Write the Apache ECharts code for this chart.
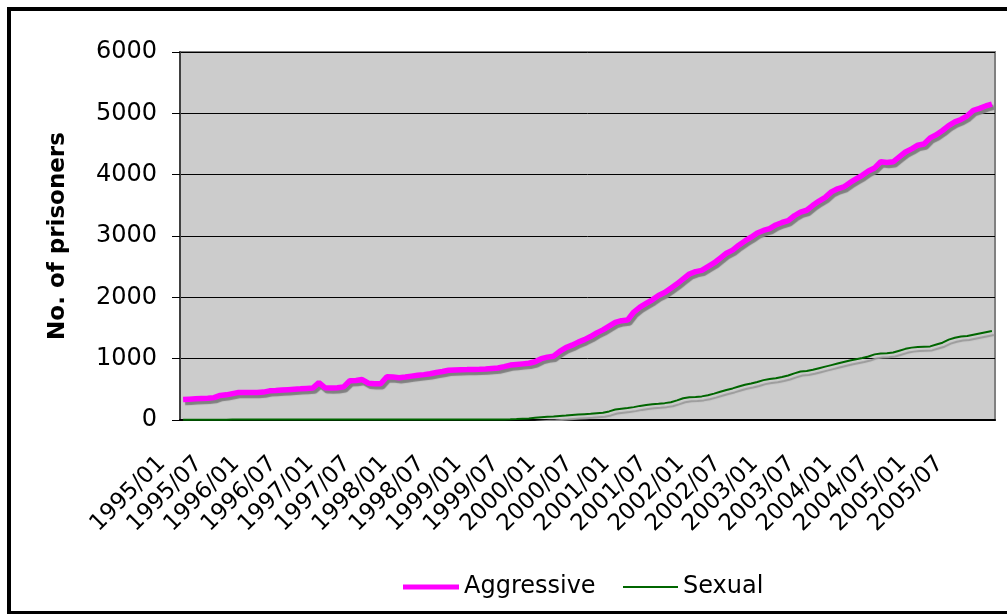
<!DOCTYPE html>
<html><head><meta charset="utf-8">
<script src="https://cdn.jsdelivr.net/npm/echarts@6/dist/echarts.min.js"></script>
<style>html,body{margin:0;padding:0;background:#fff}#c{width:1007px;height:614px}</style>
</head><body><div id="c"></div>
<script>
const years = ['1995','1996','1997','1998','1999','2000','2001','2002','2003','2004','2005'];
const months = ['01','02','03','04','05','06','07','08','09','10','11','12'];
const categories = [];
years.forEach(y => months.forEach(m => categories.push(y + '/' + m)));
const yTicks = [0, 1000, 2000, 3000, 4000, 5000, 6000];
const seriesNames = ['Aggressive', 'Sexual'];
const aggressive = [
  335, 340, 345, 350, 355, 365, 400, 410, 430, 450, 450, 448,
  448, 455, 475, 480, 488, 495, 502, 508, 515, 520, 610, 525,
  520, 525, 540, 640, 645, 660, 600, 590, 590, 705, 700, 690,
  700, 715, 730, 740, 755, 775, 790, 810, 815, 820, 822, 825,
  828, 832, 840, 848, 870, 895, 905, 915, 925, 950, 1000, 1025,
  1040, 1120, 1180, 1220, 1270, 1310, 1360, 1420, 1470, 1530, 1590, 1620,
  1630, 1760, 1840, 1900, 1960, 2030, 2080, 2150, 2220, 2300, 2380, 2420,
  2440, 2500, 2560, 2640, 2720, 2770, 2850, 2920, 2980, 3050, 3090, 3120,
  3180, 3220, 3250, 3330, 3390, 3420, 3500, 3570, 3630, 3720, 3770, 3800,
  3870, 3930, 3990, 4060, 4110, 4210, 4200, 4210, 4290, 4370, 4420, 4480,
  4500, 4600, 4650, 4720, 4800, 4860, 4900, 4960, 5050, 5080, 5120, 5150
];
const sexual = [
  5, 5, 5, 5, 5, 6, 6, 6, 7, 7, 7, 8,
  8, 8, 8, 9, 9, 9, 10, 10, 10, 10, 10, 10,
  10, 10, 10, 10, 10, 10, 10, 10, 10, 10, 10, 10,
  10, 10, 10, 10, 10, 10, 10, 10, 10, 10, 10, 10,
  10, 10, 10, 10, 10, 12, 15, 20, 25, 35, 45, 52,
  58, 65, 72, 80, 88, 95, 102, 110, 118, 140, 170, 185,
  195, 210, 230, 245, 258, 265, 275, 290, 320, 355, 370, 375,
  385, 405, 430, 460, 490, 515, 545, 575, 595, 620, 650, 670,
  680, 700, 725, 760, 790, 800, 820, 845, 870, 895, 920, 945,
  970, 990, 1010, 1035, 1070, 1085, 1090, 1100, 1130, 1160, 1180, 1190,
  1195, 1200, 1230, 1260, 1310, 1340, 1360, 1370, 1390, 1410, 1430, 1450
];
const FONT = 'DejaVu Sans';
const chart = echarts.init(document.getElementById('c'), null, {renderer: 'canvas'});
chart.setOption({
  animation: false,
  backgroundColor: '#ffffff',
  textStyle: {fontFamily: FONT},
  grid: {left: 180, right: 12, top: 52, bottom: 194, show: true, backgroundColor: '#cccccc', borderColor: '#808080', borderWidth: 2},
  graphic: [
    {type: 'rect', shape: {x: 9, y: 9, width: 1010, height: 604}, style: {fill: 'none', stroke: '#000', lineWidth: 4}, z: 100},
    {type: 'text', x: 58, y: 236, rotation: Math.PI / 2, style: {text: 'No. of prisoners', font: 'bold 23px "DejaVu Sans"', fill: '#000', align: 'center', verticalAlign: 'middle'}}
  ],
  legend: [
    {data: [{name: seriesNames[0], icon: 'rect'}], left: 403, top: 575, padding: 0, itemWidth: 56, itemHeight: 5, itemGap: 0, textStyle: {fontSize: 24, color: '#000', fontFamily: FONT}},
    {data: [{name: seriesNames[1], icon: 'rect'}], left: 623, top: 575, padding: 0, itemWidth: 55, itemHeight: 2, itemGap: 0, textStyle: {fontSize: 24, color: '#000', fontFamily: FONT}}
  ],
  xAxis: {
    type: 'category', data: categories, boundaryGap: true,
    axisLine: {lineStyle: {color: '#000', width: 2}},
    axisTick: {interval: 0, length: 7, lineStyle: {color: '#000', width: 1}},
    axisLabel: {interval: 5, rotate: 45, fontSize: 23, color: '#000', fontFamily: FONT, margin: 19, padding: [0, 30, 0, 0]},
    splitLine: {show: false}
  },
  yAxis: {
    type: 'value', min: yTicks[0], max: yTicks[yTicks.length - 1], interval: 1000,
    axisLine: {show: true, lineStyle: {color: '#404040', width: 2}},
    axisTick: {show: true, length: 8, lineStyle: {color: '#000'}},
    axisLabel: {fontSize: 24, color: '#000', fontFamily: FONT, margin: 23, formatter: v => String(v)},
    splitLine: {lineStyle: {color: '#000', width: 1}}
  },
  series: [
    {name: seriesNames[0], type: 'line', data: aggressive, showSymbol: false, symbol: 'none', color: '#ff00ff',
     lineStyle: {color: '#ff00ff', width: 5.5, shadowColor: '#808080', shadowBlur: 1, shadowOffsetX: 2, shadowOffsetY: 3}, z: 3},
    {name: seriesNames[1], type: 'line', data: sexual, showSymbol: false, symbol: 'none', color: '#006600',
     lineStyle: {color: '#006600', width: 2, shadowColor: '#999999', shadowBlur: 1, shadowOffsetX: 2, shadowOffsetY: 4}, z: 2}
  ]
});
</script></body></html>
